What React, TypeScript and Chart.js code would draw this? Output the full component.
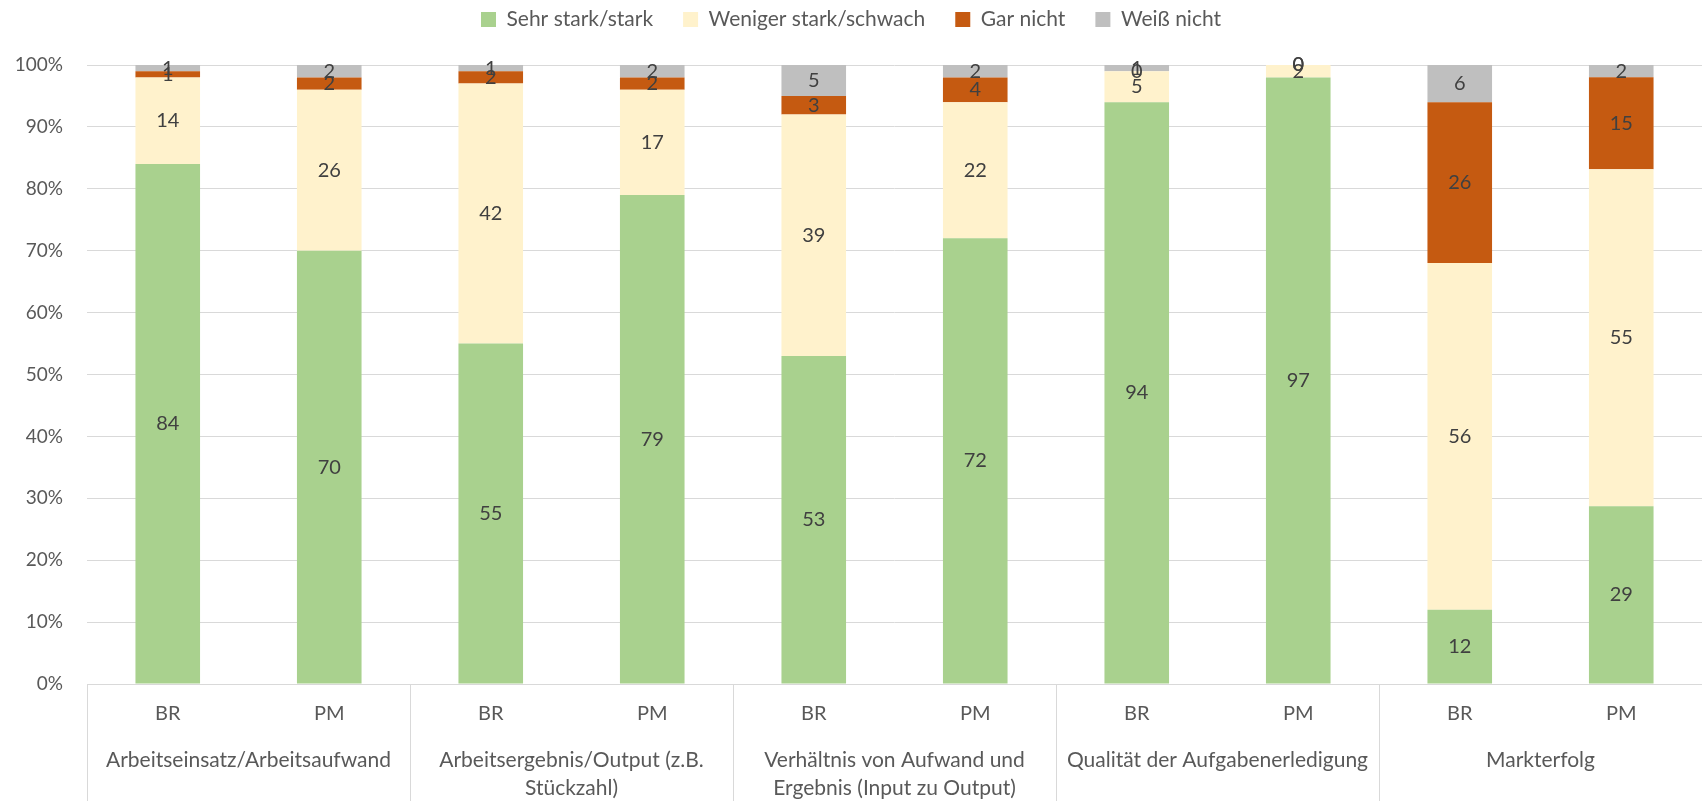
import React, { useEffect, useRef } from "react";
import { Chart, registerables } from "chart.js";

Chart.register(...registerables);

const categories = ["BR", "PM", "BR", "PM", "BR", "PM", "BR", "PM", "BR", "PM"];
const groupLabels: (string | string[])[] = [
  "Arbeitseinsatz/Arbeitsaufwand",
  ["Arbeitsergebnis/Output (z.B.", "Stückzahl)"],
  ["Verhältnis von Aufwand und", "Ergebnis (Input zu Output)"],
  "Qualität der Aufgabenerledigung",
  "Markterfolg",
];
const seriesNames = ["Sehr stark/stark", "Weniger stark/schwach", "Gar nicht", "Weiß nicht"];
const sehrStark = [84, 70, 55, 79, 53, 72, 94, 97, 12, 29];
const wenigerStark = [14, 26, 42, 17, 39, 22, 5, 2, 56, 55];
const garNicht = [1, 2, 2, 2, 3, 4, 0, 0, 26, 15];
const weissNicht = [1, 2, 1, 2, 5, 2, 1, 0, 6, 2];
const yTicks = [0, 10, 20, 30, 40, 50, 60, 70, 80, 90, 100];

const colors = ["#A9D18E", "#FFF2CC", "#C55A11", "#BFBFBF"];
const FONT = "Lato, 'Open Sans', sans-serif";
const TEXT = "#595959";

export default function App() {
  const ref = useRef<HTMLCanvasElement | null>(null);

  useEffect(() => {
    document.body.style.margin = "0";
    const raw = [sehrStark, wenigerStark, garNicht, weissNicht];
    const totals = categories.map((_, i) => raw.reduce((s, arr) => s + arr[i], 0));

    const labelPlugin = {
      id: "segLabels",
      afterDatasetsDraw(chart: any) {
        const ctx = chart.ctx;
        ctx.save();
        ctx.font = `20px ${FONT}`;
        ctx.fillStyle = "#404040";
        ctx.textAlign = "center";
        ctx.textBaseline = "middle";
        chart.data.datasets.forEach((ds: any, di: number) => {
          const meta = chart.getDatasetMeta(di);
          meta.data.forEach((el: any, i: number) => {
            const y = (el.y + el.base) / 2;
            ctx.fillText(String(ds.rawValues[i]), el.x, y);
          });
        });
        ctx.restore();
      },
    };

    const sepPlugin = {
      id: "groupSeparators",
      afterDraw(chart: any) {
        const ctx = chart.ctx;
        const xs = chart.scales.x;
        const area = chart.chartArea;
        ctx.save();
        ctx.strokeStyle = "#d9d9d9";
        ctx.lineWidth = 1;
        const pos: number[] = [area.left];
        for (let g = 1; g < 5; g++) {
          pos.push((xs.getPixelForValue(2 * g - 1) + xs.getPixelForValue(2 * g)) / 2);
        }
        pos.forEach((p) => {
          const x = Math.round(p) + 0.5;
          ctx.beginPath();
          ctx.moveTo(x, area.bottom);
          ctx.lineTo(x, chart.height);
          ctx.stroke();
        });
        ctx.restore();
      },
    };

    const chart = new Chart(ref.current!, {
      type: "bar",
      data: {
        labels: categories,
        datasets: raw.map((arr, k) => ({
          label: seriesNames[k],
          data: arr.map((v, i) => (v / totals[i]) * 100),
          rawValues: arr,
          backgroundColor: colors[k],
          borderWidth: 0,
          xAxisID: "x",
          yAxisID: "y",
          barPercentage: 0.4,
          categoryPercentage: 1,
        })) as any,
      },
      options: {
        animation: false,
        responsive: false,
        maintainAspectRatio: false,
        layout: { padding: { left: 0, right: 0, top: -21, bottom: 0 } },
        plugins: {
          legend: {
            position: "top",
            labels: {
              boxWidth: 15,
              boxHeight: 15,
              padding: 30,
              color: TEXT,
              font: { family: FONT, size: 21 },
            },
          },
          title: {
            display: true,
            text: " ",
            position: "top",
            weight: 500,
            padding: { top: 0, bottom: 0 },
            font: { size: 10, lineHeight: 2.5 },
          },
          tooltip: { enabled: false },
        },
        scales: {
          x: {
            stacked: true,
            weight: 0,
            grid: { display: false, drawTicks: false },
            border: { display: true, color: "#d9d9d9" },
            ticks: {
              color: TEXT,
              font: { family: FONT, size: 20, lineHeight: 1.2 },
              padding: 18,
              maxRotation: 0,
              autoSkip: false,
            },
            afterFit(axis: any) {
              axis.height = 40;
            },
          },
          x2: {
            type: "category",
            labels: groupLabels as any,
            position: "bottom",
            weight: 1,
            grid: { display: false, drawTicks: false },
            border: { display: false },
            ticks: {
              color: TEXT,
              font: { family: FONT, size: 21, lineHeight: 1.33 },
              padding: 22,
              maxRotation: 0,
              autoSkip: false,
            },
            afterFit(axis: any) {
              axis.height = 77;
            },
          },
          y: {
            stacked: true,
            min: 0,
            max: 100,
            afterBuildTicks(axis: any) {
              axis.ticks = yTicks.map((v) => ({ value: v }));
            },
            afterFit(axis: any) {
              axis.width = 87;
            },
            grid: { color: "#d9d9d9", drawTicks: false },
            border: { display: false },
            ticks: {
              color: TEXT,
              font: { family: FONT, size: 19 },
              padding: 24,
              callback: (v: any) => `${v}%`,
            },
          },
        },
      },
      plugins: [labelPlugin, sepPlugin],
    } as any);
    return () => chart.destroy();
  }, []);

  return (
    <div style={{ width: 1702, height: 801 }}>
      <canvas ref={ref} width={1702} height={801} style={{ width: 1702, height: 801, display: "block" }} />
    </div>
  );
}
